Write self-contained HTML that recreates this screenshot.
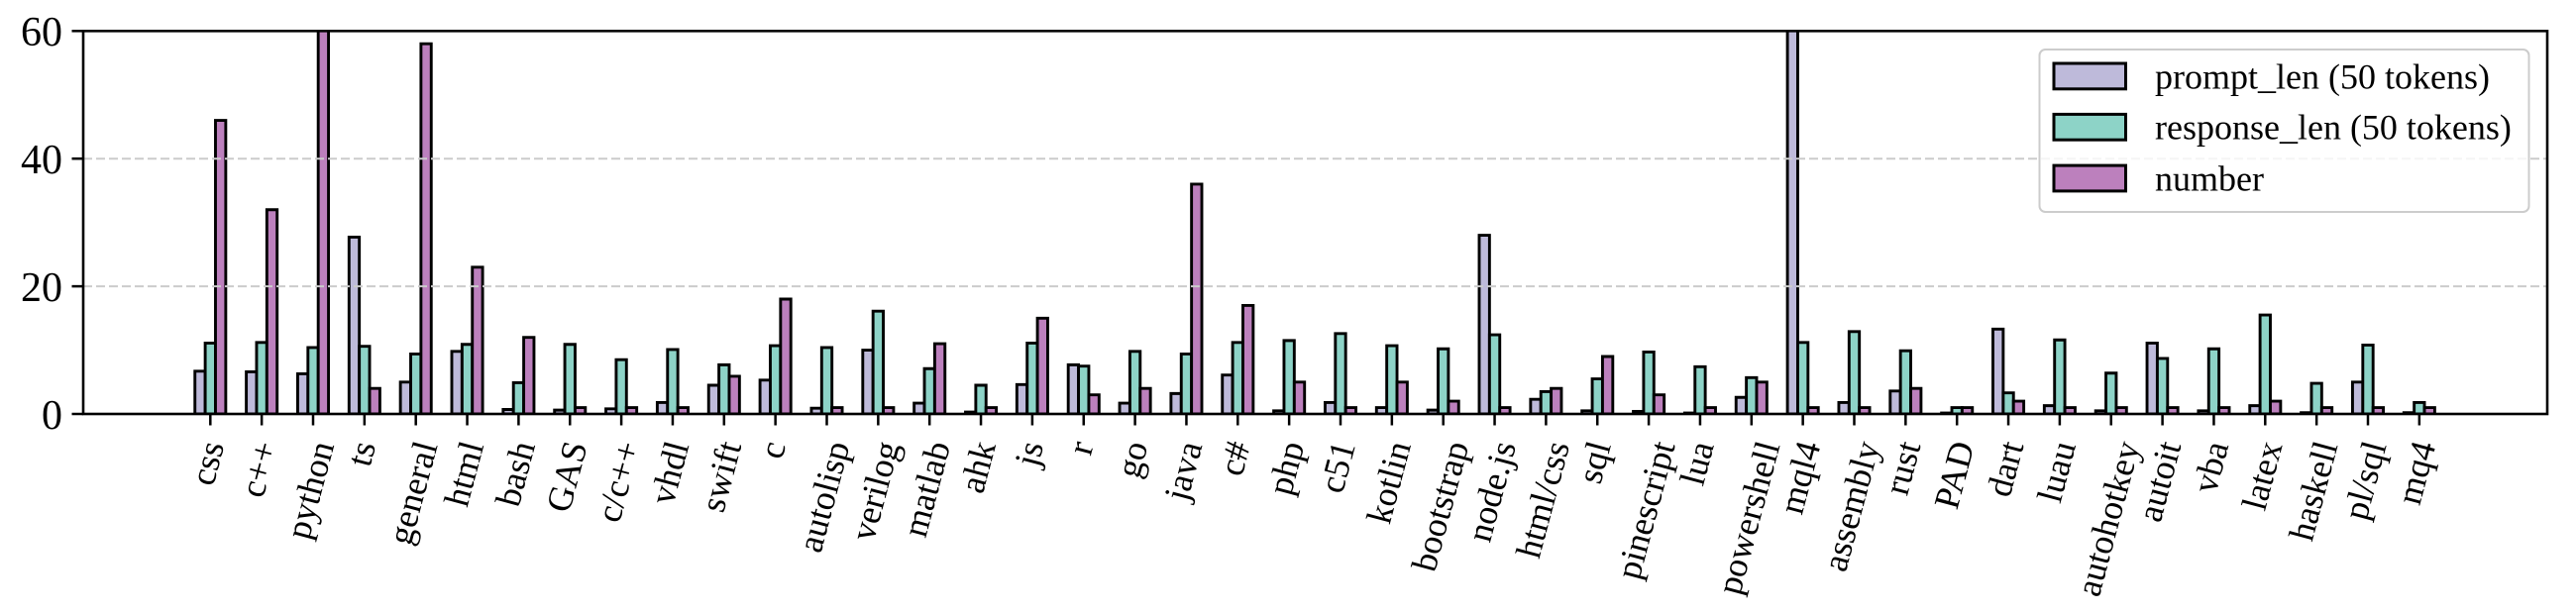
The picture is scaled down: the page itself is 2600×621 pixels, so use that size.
<!DOCTYPE html>
<html>
<head>
<meta charset="utf-8">
<style>
  html, body { margin:0; padding:0; background:#fff; }
  svg { display:block; }
  .bars rect { vector-effect: non-scaling-stroke; stroke:#000; stroke-width:2.9; }
  .p { fill:#bebada; }
  .r { fill:#8dd3c7; }
  .n { fill:#bc80bd; }
  text { font-family: "Liberation Serif", "Times New Roman", serif; fill:#000; }
  .xl { font-size:36px; }
  .yl { font-size:42px; }
  .lg { font-size:36px; }
</style>
</head>
<body>
<svg width="2600" height="621" viewBox="0 0 2600 621" xmlns="http://www.w3.org/2000/svg">
  <defs>
    <clipPath id="ax"><rect x="84" y="31.3" width="2487" height="386.7"/></clipPath>
  </defs>
  <rect x="0" y="0" width="2600" height="621" fill="#fff"/>

  <g class="bars" clip-path="url(#ax)">
    <g transform="translate(212.3 418) scale(1 -6.445)"><rect class="p" x="-15.555" y="0" width="10.37" height="6.7"/><rect class="r" x="-5.185" y="0" width="10.37" height="11.1"/><rect class="n" x="5.185" y="0" width="10.37" height="46"/></g>
    <g transform="translate(264.15 418) scale(1 -6.445)"><rect class="p" x="-15.555" y="0" width="10.37" height="6.6"/><rect class="r" x="-5.185" y="0" width="10.37" height="11.2"/><rect class="n" x="5.185" y="0" width="10.37" height="32"/></g>
    <g transform="translate(316 418) scale(1 -6.445)"><rect class="p" x="-15.555" y="0" width="10.37" height="6.3"/><rect class="r" x="-5.185" y="0" width="10.37" height="10.4"/><rect class="n" x="5.185" y="0" width="10.37" height="70"/></g>
    <g transform="translate(367.85 418) scale(1 -6.445)"><rect class="p" x="-15.555" y="0" width="10.37" height="27.7"/><rect class="r" x="-5.185" y="0" width="10.37" height="10.6"/><rect class="n" x="5.185" y="0" width="10.37" height="4"/></g>
    <g transform="translate(419.7 418) scale(1 -6.445)"><rect class="p" x="-15.555" y="0" width="10.37" height="5"/><rect class="r" x="-5.185" y="0" width="10.37" height="9.4"/><rect class="n" x="5.185" y="0" width="10.37" height="58"/></g>
    <g transform="translate(471.55 418) scale(1 -6.445)"><rect class="p" x="-15.555" y="0" width="10.37" height="9.8"/><rect class="r" x="-5.185" y="0" width="10.37" height="10.9"/><rect class="n" x="5.185" y="0" width="10.37" height="23"/></g>
    <g transform="translate(523.4 418) scale(1 -6.445)"><rect class="p" x="-15.555" y="0" width="10.37" height="0.7"/><rect class="r" x="-5.185" y="0" width="10.37" height="4.9"/><rect class="n" x="5.185" y="0" width="10.37" height="12"/></g>
    <g transform="translate(575.25 418) scale(1 -6.445)"><rect class="p" x="-15.555" y="0" width="10.37" height="0.6"/><rect class="r" x="-5.185" y="0" width="10.37" height="10.9"/><rect class="n" x="5.185" y="0" width="10.37" height="1"/></g>
    <g transform="translate(627.1 418) scale(1 -6.445)"><rect class="p" x="-15.555" y="0" width="10.37" height="0.8"/><rect class="r" x="-5.185" y="0" width="10.37" height="8.5"/><rect class="n" x="5.185" y="0" width="10.37" height="1"/></g>
    <g transform="translate(678.95 418) scale(1 -6.445)"><rect class="p" x="-15.555" y="0" width="10.37" height="1.8"/><rect class="r" x="-5.185" y="0" width="10.37" height="10.1"/><rect class="n" x="5.185" y="0" width="10.37" height="1"/></g>
    <g transform="translate(730.8 418) scale(1 -6.445)"><rect class="p" x="-15.555" y="0" width="10.37" height="4.5"/><rect class="r" x="-5.185" y="0" width="10.37" height="7.7"/><rect class="n" x="5.185" y="0" width="10.37" height="5.9"/></g>
    <g transform="translate(782.65 418) scale(1 -6.445)"><rect class="p" x="-15.555" y="0" width="10.37" height="5.3"/><rect class="r" x="-5.185" y="0" width="10.37" height="10.7"/><rect class="n" x="5.185" y="0" width="10.37" height="18"/></g>
    <g transform="translate(834.5 418) scale(1 -6.445)"><rect class="p" x="-15.555" y="0" width="10.37" height="0.9"/><rect class="r" x="-5.185" y="0" width="10.37" height="10.4"/><rect class="n" x="5.185" y="0" width="10.37" height="1"/></g>
    <g transform="translate(886.35 418) scale(1 -6.445)"><rect class="p" x="-15.555" y="0" width="10.37" height="10"/><rect class="r" x="-5.185" y="0" width="10.37" height="16.1"/><rect class="n" x="5.185" y="0" width="10.37" height="1"/></g>
    <g transform="translate(938.2 418) scale(1 -6.445)"><rect class="p" x="-15.555" y="0" width="10.37" height="1.7"/><rect class="r" x="-5.185" y="0" width="10.37" height="7.1"/><rect class="n" x="5.185" y="0" width="10.37" height="11"/></g>
    <g transform="translate(990.05 418) scale(1 -6.445)"><rect class="p" x="-15.555" y="0" width="10.37" height="0.3"/><rect class="r" x="-5.185" y="0" width="10.37" height="4.5"/><rect class="n" x="5.185" y="0" width="10.37" height="1"/></g>
    <g transform="translate(1041.9 418) scale(1 -6.445)"><rect class="p" x="-15.555" y="0" width="10.37" height="4.6"/><rect class="r" x="-5.185" y="0" width="10.37" height="11.1"/><rect class="n" x="5.185" y="0" width="10.37" height="15"/></g>
    <g transform="translate(1093.75 418) scale(1 -6.445)"><rect class="p" x="-15.555" y="0" width="10.37" height="7.7"/><rect class="r" x="-5.185" y="0" width="10.37" height="7.5"/><rect class="n" x="5.185" y="0" width="10.37" height="3"/></g>
    <g transform="translate(1145.6 418) scale(1 -6.445)"><rect class="p" x="-15.555" y="0" width="10.37" height="1.7"/><rect class="r" x="-5.185" y="0" width="10.37" height="9.8"/><rect class="n" x="5.185" y="0" width="10.37" height="4"/></g>
    <g transform="translate(1197.45 418) scale(1 -6.445)"><rect class="p" x="-15.555" y="0" width="10.37" height="3.2"/><rect class="r" x="-5.185" y="0" width="10.37" height="9.4"/><rect class="n" x="5.185" y="0" width="10.37" height="36"/></g>
    <g transform="translate(1249.3 418) scale(1 -6.445)"><rect class="p" x="-15.555" y="0" width="10.37" height="6.1"/><rect class="r" x="-5.185" y="0" width="10.37" height="11.2"/><rect class="n" x="5.185" y="0" width="10.37" height="17"/></g>
    <g transform="translate(1301.15 418) scale(1 -6.445)"><rect class="p" x="-15.555" y="0" width="10.37" height="0.5"/><rect class="r" x="-5.185" y="0" width="10.37" height="11.5"/><rect class="n" x="5.185" y="0" width="10.37" height="5"/></g>
    <g transform="translate(1353 418) scale(1 -6.445)"><rect class="p" x="-15.555" y="0" width="10.37" height="1.8"/><rect class="r" x="-5.185" y="0" width="10.37" height="12.6"/><rect class="n" x="5.185" y="0" width="10.37" height="1"/></g>
    <g transform="translate(1404.85 418) scale(1 -6.445)"><rect class="p" x="-15.555" y="0" width="10.37" height="1"/><rect class="r" x="-5.185" y="0" width="10.37" height="10.7"/><rect class="n" x="5.185" y="0" width="10.37" height="5"/></g>
    <g transform="translate(1456.7 418) scale(1 -6.445)"><rect class="p" x="-15.555" y="0" width="10.37" height="0.6"/><rect class="r" x="-5.185" y="0" width="10.37" height="10.2"/><rect class="n" x="5.185" y="0" width="10.37" height="2"/></g>
    <g transform="translate(1508.55 418) scale(1 -6.445)"><rect class="p" x="-15.555" y="0" width="10.37" height="28"/><rect class="r" x="-5.185" y="0" width="10.37" height="12.4"/><rect class="n" x="5.185" y="0" width="10.37" height="1"/></g>
    <g transform="translate(1560.4 418) scale(1 -6.445)"><rect class="p" x="-15.555" y="0" width="10.37" height="2.3"/><rect class="r" x="-5.185" y="0" width="10.37" height="3.5"/><rect class="n" x="5.185" y="0" width="10.37" height="4"/></g>
    <g transform="translate(1612.25 418) scale(1 -6.445)"><rect class="p" x="-15.555" y="0" width="10.37" height="0.5"/><rect class="r" x="-5.185" y="0" width="10.37" height="5.5"/><rect class="n" x="5.185" y="0" width="10.37" height="9"/></g>
    <g transform="translate(1664.1 418) scale(1 -6.445)"><rect class="p" x="-15.555" y="0" width="10.37" height="0.4"/><rect class="r" x="-5.185" y="0" width="10.37" height="9.7"/><rect class="n" x="5.185" y="0" width="10.37" height="3"/></g>
    <g transform="translate(1715.95 418) scale(1 -6.445)"><rect class="p" x="-15.555" y="0" width="10.37" height="0.15"/><rect class="r" x="-5.185" y="0" width="10.37" height="7.4"/><rect class="n" x="5.185" y="0" width="10.37" height="1"/></g>
    <g transform="translate(1767.8 418) scale(1 -6.445)"><rect class="p" x="-15.555" y="0" width="10.37" height="2.6"/><rect class="r" x="-5.185" y="0" width="10.37" height="5.7"/><rect class="n" x="5.185" y="0" width="10.37" height="5"/></g>
    <g transform="translate(1819.65 418) scale(1 -6.445)"><rect class="p" x="-15.555" y="0" width="10.37" height="70"/><rect class="r" x="-5.185" y="0" width="10.37" height="11.2"/><rect class="n" x="5.185" y="0" width="10.37" height="1"/></g>
    <g transform="translate(1871.5 418) scale(1 -6.445)"><rect class="p" x="-15.555" y="0" width="10.37" height="1.8"/><rect class="r" x="-5.185" y="0" width="10.37" height="12.9"/><rect class="n" x="5.185" y="0" width="10.37" height="1"/></g>
    <g transform="translate(1923.35 418) scale(1 -6.445)"><rect class="p" x="-15.555" y="0" width="10.37" height="3.6"/><rect class="r" x="-5.185" y="0" width="10.37" height="9.9"/><rect class="n" x="5.185" y="0" width="10.37" height="4"/></g>
    <g transform="translate(1975.2 418) scale(1 -6.445)"><rect class="p" x="-15.555" y="0" width="10.37" height="0.15"/><rect class="r" x="-5.185" y="0" width="10.37" height="1"/><rect class="n" x="5.185" y="0" width="10.37" height="1"/></g>
    <g transform="translate(2027.05 418) scale(1 -6.445)"><rect class="p" x="-15.555" y="0" width="10.37" height="13.3"/><rect class="r" x="-5.185" y="0" width="10.37" height="3.3"/><rect class="n" x="5.185" y="0" width="10.37" height="2"/></g>
    <g transform="translate(2078.9 418) scale(1 -6.445)"><rect class="p" x="-15.555" y="0" width="10.37" height="1.3"/><rect class="r" x="-5.185" y="0" width="10.37" height="11.6"/><rect class="n" x="5.185" y="0" width="10.37" height="1"/></g>
    <g transform="translate(2130.75 418) scale(1 -6.445)"><rect class="p" x="-15.555" y="0" width="10.37" height="0.5"/><rect class="r" x="-5.185" y="0" width="10.37" height="6.4"/><rect class="n" x="5.185" y="0" width="10.37" height="1"/></g>
    <g transform="translate(2182.6 418) scale(1 -6.445)"><rect class="p" x="-15.555" y="0" width="10.37" height="11.1"/><rect class="r" x="-5.185" y="0" width="10.37" height="8.7"/><rect class="n" x="5.185" y="0" width="10.37" height="1"/></g>
    <g transform="translate(2234.45 418) scale(1 -6.445)"><rect class="p" x="-15.555" y="0" width="10.37" height="0.5"/><rect class="r" x="-5.185" y="0" width="10.37" height="10.2"/><rect class="n" x="5.185" y="0" width="10.37" height="1"/></g>
    <g transform="translate(2286.3 418) scale(1 -6.445)"><rect class="p" x="-15.555" y="0" width="10.37" height="1.3"/><rect class="r" x="-5.185" y="0" width="10.37" height="15.5"/><rect class="n" x="5.185" y="0" width="10.37" height="2"/></g>
    <g transform="translate(2338.15 418) scale(1 -6.445)"><rect class="p" x="-15.555" y="0" width="10.37" height="0.2"/><rect class="r" x="-5.185" y="0" width="10.37" height="4.8"/><rect class="n" x="5.185" y="0" width="10.37" height="1"/></g>
    <g transform="translate(2390 418) scale(1 -6.445)"><rect class="p" x="-15.555" y="0" width="10.37" height="5"/><rect class="r" x="-5.185" y="0" width="10.37" height="10.8"/><rect class="n" x="5.185" y="0" width="10.37" height="1"/></g>
    <g transform="translate(2441.85 418) scale(1 -6.445)"><rect class="p" x="-15.555" y="0" width="10.37" height="0.2"/><rect class="r" x="-5.185" y="0" width="10.37" height="1.8"/><rect class="n" x="5.185" y="0" width="10.37" height="1"/></g>
  </g>

  <!-- grid (drawn above bars) -->
  <g stroke="#cccccc" stroke-width="2" stroke-dasharray="9 4" fill="none">
    <line x1="84" y1="289.1" x2="2571" y2="289.1"/>
    <line x1="84" y1="160.2" x2="2571" y2="160.2"/>
  </g>

  <!-- spines -->
  <rect x="84" y="31.3" width="2487" height="386.7" fill="none" stroke="#000" stroke-width="2.6"/>

  <!-- y ticks -->
  <g stroke="#000" stroke-width="2.5">
    <line x1="72.5" y1="418" x2="84" y2="418"/>
    <line x1="72.5" y1="289.1" x2="84" y2="289.1"/>
    <line x1="72.5" y1="160.2" x2="84" y2="160.2"/>
    <line x1="72.5" y1="31.3" x2="84" y2="31.3"/>
  </g>
  <g class="yl" text-anchor="end">
    <text x="63" y="433">0</text>
    <text x="63" y="304">20</text>
    <text x="63" y="175">40</text>
    <text x="63" y="46">60</text>
  </g>

  <!-- x ticks -->
  <g stroke="#000" stroke-width="2.5">
    <line x1="212.3" y1="418" x2="212.3" y2="429.5"/><line x1="264.15" y1="418" x2="264.15" y2="429.5"/><line x1="316" y1="418" x2="316" y2="429.5"/><line x1="367.85" y1="418" x2="367.85" y2="429.5"/><line x1="419.7" y1="418" x2="419.7" y2="429.5"/><line x1="471.55" y1="418" x2="471.55" y2="429.5"/><line x1="523.4" y1="418" x2="523.4" y2="429.5"/><line x1="575.25" y1="418" x2="575.25" y2="429.5"/><line x1="627.1" y1="418" x2="627.1" y2="429.5"/><line x1="678.95" y1="418" x2="678.95" y2="429.5"/><line x1="730.8" y1="418" x2="730.8" y2="429.5"/>
    <line x1="782.65" y1="418" x2="782.65" y2="429.5"/><line x1="834.5" y1="418" x2="834.5" y2="429.5"/><line x1="886.35" y1="418" x2="886.35" y2="429.5"/><line x1="938.2" y1="418" x2="938.2" y2="429.5"/><line x1="990.05" y1="418" x2="990.05" y2="429.5"/><line x1="1041.9" y1="418" x2="1041.9" y2="429.5"/><line x1="1093.75" y1="418" x2="1093.75" y2="429.5"/><line x1="1145.6" y1="418" x2="1145.6" y2="429.5"/><line x1="1197.45" y1="418" x2="1197.45" y2="429.5"/><line x1="1249.3" y1="418" x2="1249.3" y2="429.5"/><line x1="1301.15" y1="418" x2="1301.15" y2="429.5"/>
    <line x1="1353" y1="418" x2="1353" y2="429.5"/><line x1="1404.85" y1="418" x2="1404.85" y2="429.5"/><line x1="1456.7" y1="418" x2="1456.7" y2="429.5"/><line x1="1508.55" y1="418" x2="1508.55" y2="429.5"/><line x1="1560.4" y1="418" x2="1560.4" y2="429.5"/><line x1="1612.25" y1="418" x2="1612.25" y2="429.5"/><line x1="1664.1" y1="418" x2="1664.1" y2="429.5"/><line x1="1715.95" y1="418" x2="1715.95" y2="429.5"/><line x1="1767.8" y1="418" x2="1767.8" y2="429.5"/><line x1="1819.65" y1="418" x2="1819.65" y2="429.5"/><line x1="1871.5" y1="418" x2="1871.5" y2="429.5"/>
    <line x1="1923.35" y1="418" x2="1923.35" y2="429.5"/><line x1="1975.2" y1="418" x2="1975.2" y2="429.5"/><line x1="2027.05" y1="418" x2="2027.05" y2="429.5"/><line x1="2078.9" y1="418" x2="2078.9" y2="429.5"/><line x1="2130.75" y1="418" x2="2130.75" y2="429.5"/><line x1="2182.6" y1="418" x2="2182.6" y2="429.5"/><line x1="2234.45" y1="418" x2="2234.45" y2="429.5"/><line x1="2286.3" y1="418" x2="2286.3" y2="429.5"/><line x1="2338.15" y1="418" x2="2338.15" y2="429.5"/><line x1="2390" y1="418" x2="2390" y2="429.5"/><line x1="2441.85" y1="418" x2="2441.85" y2="429.5"/>
  </g>

  <!-- x labels -->
  <g class="xl" text-anchor="end">
    <text transform="translate(226.4 449.5) rotate(-75)">css</text>
    <text transform="translate(279.85 449.5) rotate(-75)">c++</text>
    <text transform="translate(337.4 449.5) rotate(-75)">python</text>
    <text transform="translate(379.35 449.5) rotate(-75)">ts</text>
    <text transform="translate(441.8 449.5) rotate(-75)">general</text>
    <text transform="translate(488.45 449.5) rotate(-75)">html</text>
    <text transform="translate(540.3 449.5) rotate(-75)">bash</text>
    <text transform="translate(592.95 449.5) rotate(-75)">GAS</text>
    <text transform="translate(646.2 449.5) rotate(-75)">c/c++</text>
    <text transform="translate(695.65 449.5) rotate(-75)">vhdl</text>
    <text transform="translate(748.5 449.5) rotate(-75)">swift</text>
    <text transform="translate(793.15 449.5) rotate(-75)">c</text>
    <text transform="translate(857.7 449.5) rotate(-75)">autolisp</text>
    <text transform="translate(907.95 449.5) rotate(-75)">verilog</text>
    <text transform="translate(959.3 449.5) rotate(-75)">matlab</text>
    <text transform="translate(1005.15 449.5) rotate(-75)">ahk</text>
    <text transform="translate(1053.4 449.5) rotate(-75)">js</text>
    <text transform="translate(1103.75 449.5) rotate(-75)">r</text>
    <text transform="translate(1158.7 449.5) rotate(-75)">go</text>
    <text transform="translate(1213.65 449.5) rotate(-75)">java</text>
    <text transform="translate(1262.1 449.5) rotate(-75)">c#</text>
    <text transform="translate(1316.55 449.5) rotate(-75)">php</text>
    <text transform="translate(1368.1 449.5) rotate(-75)">c51</text>
    <text transform="translate(1424.15 449.5) rotate(-75)">kotlin</text>
    <text transform="translate(1482.5 449.5) rotate(-75)">bootstrap</text>
    <text transform="translate(1530.25 449.5) rotate(-75)">node.js</text>
    <text transform="translate(1584.3 449.5) rotate(-75)">html/css</text>
    <text transform="translate(1626.05 449.5) rotate(-75)">sql</text>
    <text transform="translate(1690.9 449.5) rotate(-75)">pinescript</text>
    <text transform="translate(1730.05 449.5) rotate(-75)">lua</text>
    <text transform="translate(1796.7 449.5) rotate(-75)">powershell</text>
    <text transform="translate(1837.65 449.5) rotate(-75)">mql4</text>
    <text transform="translate(1897.3 449.5) rotate(-75)">assembly</text>
    <text transform="translate(1938.75 449.5) rotate(-75)">rust</text>
    <text transform="translate(1992.9 449.5) rotate(-75)">PAD</text>
    <text transform="translate(2042.75 449.5) rotate(-75)">dart</text>
    <text transform="translate(2095.3 449.5) rotate(-75)">luau</text>
    <text transform="translate(2159.85 449.5) rotate(-75)">autohotkey</text>
    <text transform="translate(2201.6 449.5) rotate(-75)">autoit</text>
    <text transform="translate(2249.55 449.5) rotate(-75)">vba</text>
    <text transform="translate(2303.8 449.5) rotate(-75)">latex</text>
    <text transform="translate(2359.75 449.5) rotate(-75)">haskell</text>
    <text transform="translate(2408.8 449.5) rotate(-75)">pl/sql</text>
    <text transform="translate(2458.55 449.5) rotate(-75)">mq4</text>
  </g>

  <!-- legend -->
  <rect x="2058.5" y="50" width="494" height="164" rx="6" ry="6" fill="#ffffff" fill-opacity="0.8" stroke="#cccccc" stroke-width="2"/>
  <g stroke="#000" stroke-width="3">
    <rect x="2073" y="64" width="72.5" height="25.8" fill="#bebada"/>
    <rect x="2073" y="115.4" width="72.5" height="25.8" fill="#8dd3c7"/>
    <rect x="2073" y="167.1" width="72.5" height="25.8" fill="#bc80bd"/>
  </g>
  <g class="lg">
    <text x="2175" y="89.3">prompt_len (50 tokens)</text>
    <text x="2175" y="140.7">response_len (50 tokens)</text>
    <text x="2175" y="192.3">number</text>
  </g>
</svg>
</body>
</html>
